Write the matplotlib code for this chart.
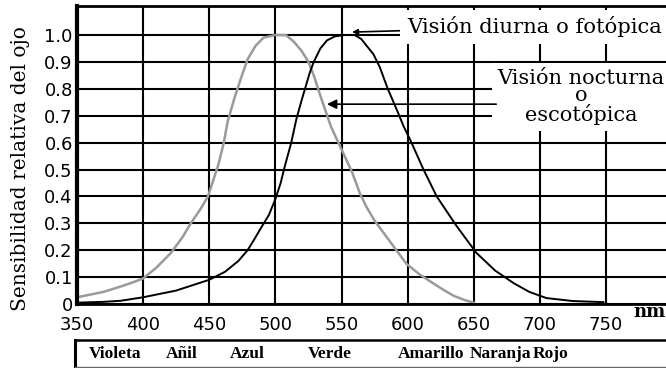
import matplotlib.pyplot as plt
from matplotlib.transforms import blended_transform_factory

# Curvas de sensibilidad
escotopica_nm = [350, 360, 370, 383, 392, 400, 410, 421, 430, 436, 443, 449, 453, 457, 461,
                 464, 469, 474, 479, 485, 491, 500, 508, 514, 520, 525, 529, 535, 542, 550,
                 558, 564, 569, 575, 581, 590, 599, 609, 619, 628, 635, 643, 650]
escotopica_val = [0.025, 0.035, 0.045, 0.065, 0.08, 0.095, 0.135, 0.19, 0.25, 0.30, 0.35, 0.40,
                  0.46, 0.52, 0.60, 0.68, 0.765, 0.84, 0.91, 0.96, 0.99, 1.00, 1.00, 0.975,
                  0.94, 0.90, 0.85, 0.76, 0.66, 0.575, 0.49, 0.41, 0.36, 0.31, 0.27, 0.21,
                  0.15, 0.11, 0.078, 0.05, 0.03, 0.015, 0.005]

fotopica_nm = [350, 370, 383, 400, 425, 450, 462, 472, 479, 484, 490, 495, 500, 504, 507,
               512, 516, 520, 523, 526, 529, 534, 539, 545, 552, 560, 565, 569, 574, 579,
               585, 592, 597, 602, 612, 622, 637, 652, 666, 680, 692, 705, 725, 748]
fotopica_val = [0.005, 0.008, 0.012, 0.025, 0.05, 0.09, 0.12, 0.16, 0.20, 0.24, 0.29, 0.33,
                0.39, 0.45, 0.51, 0.60, 0.69, 0.76, 0.81, 0.86, 0.90, 0.95, 0.98, 0.995,
                1.00, 1.00, 0.985, 0.96, 0.93, 0.88, 0.80, 0.72, 0.66, 0.61, 0.50, 0.40,
                0.29, 0.19, 0.125, 0.078, 0.045, 0.022, 0.011, 0.007]

x_ticks = [350, 400, 450, 500, 550, 600, 650, 700, 750]
y_ticks = [0, 0.1, 0.2, 0.3, 0.4, 0.5, 0.6, 0.7, 0.8, 0.9, 1.0]
y_labels = ['0', '0.1', '0.2', '0.3', '0.4', '0.5', '0.6', '0.7', '0.8', '0.9', '1.0']

colores = ['Violeta', 'Añil', 'Azul', 'Verde', 'Amarillo', 'Naranja', 'Rojo']
colores_nm = [379, 429, 479, 541, 618, 670, 708]

fig = plt.figure(figsize=(6.66, 3.68), dpi=100)
ax = fig.add_axes([77/666, 64/368, 589/666, 298/368])

ax.plot(escotopica_nm, escotopica_val, color='#9a9a9a', lw=1.8, zorder=2)
ax.plot(fotopica_nm, fotopica_val, color='black', lw=1.4, zorder=2)

ax.set_xlim(350, 350 + 589/1.3225)
ax.set_ylim(0, 1.108)
ax.set_xticks(x_ticks)
ax.set_yticks(y_ticks)
ax.set_yticklabels(y_labels)
ax.tick_params(axis='both', length=0, labelsize=13)
ax.tick_params(axis='x', pad=9)
ax.tick_params(axis='y', pad=3)
ax.set_axisbelow(True)
ax.grid(True, color='black', lw=1.5)

ax.spines['right'].set_visible(False)
ax.spines['left'].set_linewidth(3)
ax.spines['bottom'].set_linewidth(2)
ax.spines['top'].set_linewidth(2)

ax.set_ylabel('Sensibilidad relativa del ojo', family='DejaVu Serif', fontsize=14.5)
ax.yaxis.set_label_coords(-0.08, 0.455)

# Anotaciones
ax.annotate('Visión diurna o fotópica', xy=(558, 1.011), xytext=(599.5, 1.03),
            family='DejaVu Serif', fontsize=15.2, va='center', ha='left',
            bbox=dict(fc='white', ec='none', pad=5),
            arrowprops=dict(arrowstyle='-|>', color='black', lw=1.2, mutation_scale=8,
                            shrinkA=0, shrinkB=0))
ax.text(731, 0.77, 'Visión nocturna\no\nescotópica', family='DejaVu Serif', fontsize=15,
        va='center', ha='center', multialignment='center', linespacing=0.92,
        bbox=dict(fc='white', ec='none', pad=4))
ax.annotate('', xy=(539, 0.743), xytext=(667, 0.743),
            arrowprops=dict(arrowstyle='-|>', color='black', lw=1.2, mutation_scale=14,
                            shrinkA=0, shrinkB=0))

fig.text(783, (368 - 312)/368, 'nm',
         transform=blended_transform_factory(ax.transData, fig.transFigure),
         family='DejaVu Serif', fontweight='bold', fontsize=13, ha='center', va='center')

# Banda de colores
band = fig.add_axes([75/666, 1/368, 600/666, 27/368])
band.set_xticks([])
band.set_yticks([])
band.spines['right'].set_visible(False)
band.spines['left'].set_linewidth(2.2)
band.spines['top'].set_linewidth(1.8)
band.spines['bottom'].set_linewidth(1)
band.spines['bottom'].set_color('#666666')
trans = blended_transform_factory(ax.transData, band.transAxes)
for nombre, pos in zip(colores, colores_nm):
    band.text(pos, 0.48, nombre, transform=trans, family='Liberation Serif',
              fontweight='bold', fontsize=12.5, ha='center', va='center')

fig.savefig('out.png', dpi=100)
